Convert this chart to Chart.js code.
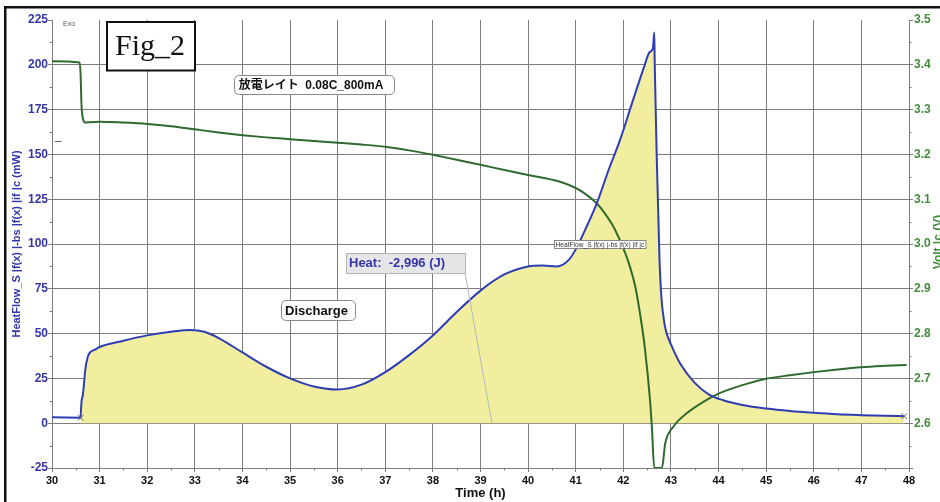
<!DOCTYPE html>
<html><head><meta charset="utf-8">
<script src="https://cdn.jsdelivr.net/npm/chart.js@4"></script>
<style>html,body{margin:0;padding:0;background:#fff;}canvas{display:block;}</style>
</head><body>
<canvas id="c" width="940" height="502"></canvas>
<script>
// ---- data ----
const hfPreTime   = [30.0, 30.3, 30.6];
const hfPreValues = [3.3, 3.2, 3.0];

const hfTime = [30.6, 30.62, 30.65, 30.7, 30.75, 30.8, 30.9, 31.0, 31.5, 32.0, 32.5, 32.9, 33.2, 33.5, 34.0, 34.5, 35.0, 35.5, 36.0, 36.5, 37.0, 37.5, 38.0, 38.5, 39.0, 39.5, 40.0, 40.3, 40.6, 40.85, 41.0, 41.2, 41.44, 41.7, 41.93, 42.2, 42.45, 42.55, 42.62, 42.65, 42.66, 42.7, 42.76, 42.8, 42.85, 42.9, 43.0, 43.2, 43.5, 43.8, 44.1, 44.5, 45.0, 45.5, 46.0, 46.5, 47.0, 47.5, 47.9];
const hfValues = [3.0, 12, 16, 30, 37, 39.5, 41, 42.5, 46, 49, 51, 52, 51, 47.5, 39.5, 31.5, 25, 20.5, 18.8, 21.5, 28.5, 38, 49, 62, 74, 83, 87.5, 88, 87.5, 91, 97, 108, 122.5, 142, 158, 180, 200, 207, 209, 218, 200, 150, 91, 70, 58, 51, 44, 33, 22.5, 16, 12.8, 10.2, 8.2, 6.8, 5.8, 5.0, 4.5, 4.1, 3.9];

const voltTime = [30.0, 30.58, 30.6, 30.62, 30.65, 30.7, 30.8, 31.0, 31.5, 32.0, 32.5, 33.0, 33.5, 34.0, 34.5, 35.0, 35.5, 36.0, 36.5, 37.0, 37.5, 38.0, 38.5, 39.0, 39.5, 40.0, 40.3, 40.67, 41.0, 41.2, 41.44, 41.6, 41.79, 42.0, 42.14, 42.25, 42.35, 42.45, 42.56, 42.6, 42.65, 42.81, 42.88, 43.05, 43.33, 43.75, 44.0, 44.5, 45.0, 45.5, 46.0, 46.5, 47.0, 47.5, 47.95];
const voltValues = [3.408, 3.405, 3.38, 3.31, 3.28, 3.271, 3.272, 3.273, 3.271, 3.268, 3.263, 3.256, 3.249, 3.243, 3.238, 3.234, 3.230, 3.226, 3.222, 3.217, 3.209, 3.199, 3.188, 3.177, 3.165, 3.154, 3.148, 3.139, 3.125, 3.112, 3.091, 3.07, 3.039, 2.99, 2.949, 2.905, 2.845, 2.77, 2.652, 2.59, 2.5, 2.5, 2.555, 2.592, 2.622, 2.652, 2.666, 2.685, 2.699, 2.707, 2.714, 2.72, 2.725, 2.728, 2.73];

const markerTime   = [30.6, 47.9];
const markerValues = [3.0, 3.9];

const heatLeaderTime = 39.24;   // where the "Heat" label's leader line meets the baseline
const heatLeaderValue = 0;

const figLabel = 'Fig_2';
const rateLabel = '放電レイト  0.08C_800mA';
const dischargeLabel = 'Discharge';
const heatLabel = 'Heat:  -2,996 (J)';
const seriesTag = 'HeatFlow_S |f(x) |-bs |f(x) |if |c';
const leftTitle = 'HeatFlow_S |f(x) |-bs |f(x) |if |c (mW)';
const rightTitle = 'Volt |c (V)';
const xTitle = 'Time (h)';

// ---- styles ----
const BLUE = '#2f3db5', BLUE_T = '#3535a8';
const GREEN = '#2f6b2f', GREEN_T = '#428c3c';
const YELLOW = '#f1ef9f';
const GRID = '#7c7c7c';
const SANS = "'Liberation Sans', Arial, 'Noto Sans CJK JP', sans-serif";

const pts = (xs, ys) => xs.map((t, i) => ({x: t, y: ys[i]}));

function roundRect(ctx, x, y, w, h, r) {
  ctx.beginPath();
  ctx.moveTo(x + r, y);
  ctx.lineTo(x + w - r, y); ctx.quadraticCurveTo(x + w, y, x + w, y + r);
  ctx.lineTo(x + w, y + h - r); ctx.quadraticCurveTo(x + w, y + h, x + w - r, y + h);
  ctx.lineTo(x + r, y + h); ctx.quadraticCurveTo(x, y + h, x, y + h - r);
  ctx.lineTo(x, y + r); ctx.quadraticCurveTo(x, y, x + r, y);
  ctx.closePath();
}

const bgPlugin = {
  id: 'bg',
  beforeDraw(chart) {
    const c = chart.ctx;
    c.save();
    c.fillStyle = '#fff';
    c.fillRect(0, 0, chart.width, chart.height);
    c.restore();
  },
  afterDraw(chart) {
    const c = chart.ctx;
    const {x, y, y2} = chart.scales;
    c.save();
    // outer frame
    c.fillStyle = '#111';
    c.fillRect(4, 6, 2.5, chart.height - 6);
    c.fillRect(4, 6, chart.width - 4, 2.5);

    // minor ticks
    c.strokeStyle = GRID; c.lineWidth = 1;
    c.beginPath();
    for (let v = -12.5; v < 225; v += 25) {
      const py = Math.round(y.getPixelForValue(v)) + 0.5;
      c.moveTo(y.right - 2.5, py); c.lineTo(y.right, py);
    }
    for (let v = 2.55; v < 3.5; v += 0.1) {
      const py = Math.round(y2.getPixelForValue(v)) + 0.5;
      c.moveTo(y2.left, py); c.lineTo(y2.left + 2.5, py);
    }
    for (let v = 30.5; v < 48; v += 1) {
      const px = Math.round(x.getPixelForValue(v)) + 0.5;
      c.moveTo(px, x.top); c.lineTo(px, x.top + 2.5);
    }
    c.stroke();

    // little dash near left axis
    c.strokeStyle = '#666';
    c.beginPath(); c.moveTo(55, 141.5); c.lineTo(61.5, 141.5); c.stroke();

    // Exo
    c.fillStyle = '#555';
    c.font = '7px ' + SANS;
    c.textBaseline = 'middle'; c.textAlign = 'left';
    c.fillText('Exo', 63, 24.5);

    // right axis title (cut by the canvas edge)
    c.save();
    c.translate(939, 242);
    c.rotate(-Math.PI / 2);
    c.fillStyle = GREEN_T;
    c.font = 'bold 12px ' + SANS;
    c.textAlign = 'center'; c.textBaseline = 'middle';
    c.fillText(rightTitle, 0, 0);
    c.restore();

    // Fig_2 box
    c.fillStyle = '#fff';
    c.fillRect(107, 22, 88, 48.5);
    c.strokeStyle = '#111'; c.lineWidth = 2;
    c.strokeRect(107, 22, 88, 48.5);
    c.fillStyle = '#111';
    c.font = "30px 'Liberation Serif', 'Times New Roman', serif";
    c.textAlign = 'center'; c.textBaseline = 'alphabetic';
    c.fillText(figLabel, 150, 55);

    // rate label box
    c.lineWidth = 1;
    roundRect(c, 234.5, 75.5, 160, 19, 5);
    c.fillStyle = '#fff'; c.fill();
    c.strokeStyle = '#888'; c.stroke();
    c.fillStyle = '#111';
    c.font = 'bold 12px ' + SANS;
    c.textBaseline = 'middle';
    c.fillText(rateLabel, 311, 85.5);

    // Discharge box
    roundRect(c, 281.5, 300.5, 74, 20, 5);
    c.fillStyle = '#fff'; c.fill();
    c.strokeStyle = '#888'; c.stroke();
    c.fillStyle = '#111';
    c.font = 'bold 13px ' + SANS;
    c.fillText(dischargeLabel, 316.5, 311);

    // Heat leader line
    const lx = x.getPixelForValue(heatLeaderTime), ly = y.getPixelForValue(heatLeaderValue);
    c.strokeStyle = '#b8b8b8'; c.lineWidth = 1;
    c.beginPath(); c.moveTo(465, 273); c.lineTo(lx, ly); c.stroke();

    // Heat box
    c.fillStyle = '#e6e6e9';
    c.fillRect(346.5, 253.5, 119, 20);
    c.strokeStyle = '#b4b4b4';
    c.strokeRect(346.5, 253.5, 119, 20);
    c.fillStyle = BLUE_T;
    c.font = 'bold 13px ' + SANS;
    c.textAlign = 'left';
    c.fillText(heatLabel, 349, 263.5);

    // tiny series tag box
    c.fillStyle = '#fff';
    c.fillRect(554.5, 240.5, 91.5, 8);
    c.strokeStyle = '#888';
    c.strokeRect(554.5, 240.5, 91.5, 8);
    c.font = '7px ' + SANS;
    const w = c.measureText(seriesTag).width;
    const fs = Math.min(7, 7 * 89 / w);
    c.font = fs.toFixed(2) + 'px ' + SANS;
    c.fillStyle = '#333';
    c.fillText(seriesTag, 555.5, 244.8);
    c.restore();
  }
};

Chart.defaults.font.family = SANS;

new Chart(document.getElementById('c'), {
  type: 'line',
  data: {
    datasets: [
      {
        label: 'markers', data: pts(markerTime, markerValues), yAxisID: 'y',
        showLine: false, pointStyle: 'crossRot', pointRadius: 4, borderColor: '#666',
        backgroundColor: '#666', pointBorderWidth: 1, order: 0
      },
      {
        label: 'HeatFlow', data: pts(hfTime, hfValues), yAxisID: 'y',
        borderColor: BLUE, borderWidth: 2, pointRadius: 0, fill: 'origin',
        backgroundColor: YELLOW, cubicInterpolationMode: 'monotone', order: 1
      },
      {
        label: 'HeatFlowPre', data: pts(hfPreTime, hfPreValues), yAxisID: 'y',
        borderColor: BLUE, borderWidth: 2, pointRadius: 0, fill: false, order: 1
      },
      {
        label: 'Volt', data: pts(voltTime, voltValues), yAxisID: 'y2',
        borderColor: GREEN, borderWidth: 2, pointRadius: 0, fill: false,
        cubicInterpolationMode: 'monotone', order: 2
      }
    ]
  },
  options: {
    responsive: false,
    animation: false,
    layout: {padding: {top: 20, left: 0, right: 0, bottom: 0}},
    plugins: {
      legend: {display: false},
      tooltip: {enabled: false},
      filler: {drawTime: 'beforeDatasetsDraw'}
    },
    scales: {
      x: {
        type: 'linear', min: 30, max: 48,
        ticks: {stepSize: 1, autoSkip: false, maxRotation: 0, color: '#111', padding: 2,
                font: {size: 11, weight: 'bold'}},
        grid: {color: GRID, tickColor: GRID, tickLength: 4},
        border: {color: GRID},
        title: {display: true, text: xTitle, color: '#111', font: {size: 13, weight: 'bold'},
                padding: {top: 0, bottom: 1}},
        afterFit(s) { s.height = 34; }
      },
      y: {
        position: 'left', min: -25, max: 225,
        ticks: {stepSize: 25, color: BLUE_T, padding: 0, font: {size: 12, weight: 'bold'}},
        grid: {color: c => (c.tick && c.tick.value === 225) ? 'rgba(0,0,0,0)' : GRID,
               tickColor: GRID, tickLength: 4},
        border: {color: GRID},
        title: {display: true, text: leftTitle, color: BLUE_T, font: {size: 11, weight: 'bold'},
                padding: {top: 10, bottom: 0}},
        afterFit(s) { s.width = 52; }
      },
      y2: {
        position: 'right', min: 2.5, max: 3.5,
        ticks: {stepSize: 0.1, color: GREEN_T, padding: 1, font: {size: 12, weight: 'bold'},
                callback: v => (v < 2.55 ? '' : Number(v).toFixed(1))},
        grid: {drawOnChartArea: false, color: GRID, tickColor: GRID, tickLength: 4},
        border: {color: GRID},
        afterFit(s) { s.width = 31; }
      }
    }
  },
  plugins: [bgPlugin]
});
</script>
</body></html>
